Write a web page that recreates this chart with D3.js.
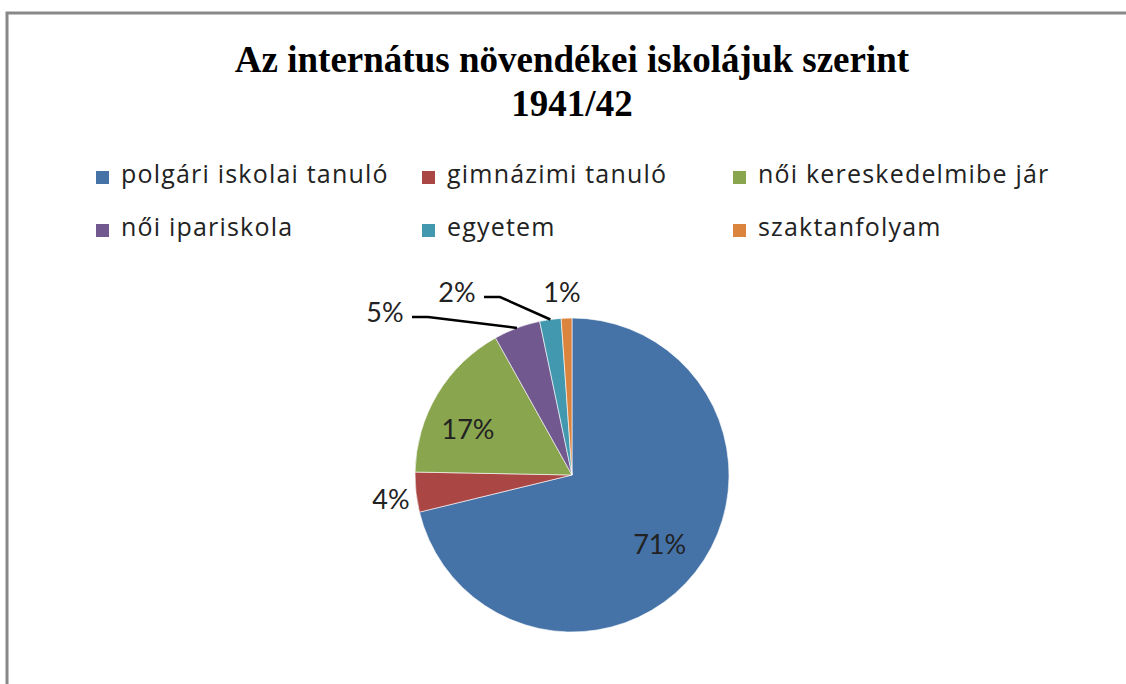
<!DOCTYPE html>
<html>
<head>
<meta charset="utf-8">
<title>Az internátus növendékei</title>
<style>
  body { margin: 0; background: #fff; }
  .title { font-family: "Liberation Serif", "Times New Roman", serif; font-weight: bold; font-size: 37px; fill: #000; }
  .legend text { font-family: "Open Sans", Lato, sans-serif; font-size: 25px; letter-spacing: 1.2px; fill: #222; }
  .lbl { font-family: Lato, "Open Sans", sans-serif; font-size: 27px; fill: #222; }
</style>
</head>
<body>
<svg width="1126" height="684"></svg>
<script src="https://cdnjs.cloudflare.com/ajax/libs/d3/7.8.5/d3.min.js"></script>
<script>
// adatok
var categories = ["polgári iskolai tanuló", "gimnázimi tanuló", "női kereskedelmibe jár",
                  "női ipariskola", "egyetem", "szaktanfolyam"];
var shares = [71.2, 4.1, 16.6, 4.8, 2.2, 1.1];
var colors = ["#4572A7", "#AA4643", "#89A54E", "#71588F", "#4198AF", "#DB843D"];
var titleLines = ["Az internátus növendékei iskolájuk szerint", "1941/42"];

// label placement: null = inside (centroid), otherwise fixed label centre + leader flag
var labelPlace = [
  null,
  { x: 391, y: 498, line: false },
  { x: 468, y: 428, line: false },
  { x: 385, y: 311, line: true },
  { x: 457, y: 291, line: true },
  { x: 562, y: 291, line: false }
];

var svg = d3.select("svg");
var cx = 572, cy = 475, r = 157;

// frame
svg.append("path")
  .attr("d", "M7,690 V13 H1130")
  .attr("fill", "none").attr("stroke", "#888").attr("stroke-width", 3);

// title
svg.selectAll(".title").data(titleLines).enter().append("text")
  .attr("class", "title")
  .attr("x", 572)
  .attr("y", (d, i) => 72 + i * 44)
  .attr("text-anchor", "middle")
  .text(d => d);

// legend
var legCols = [96, 422, 733], legRows = [171, 224];
var leg = svg.append("g").attr("class", "legend");
var items = leg.selectAll("g").data(categories).enter().append("g")
  .attr("transform", (d, i) => "translate(" + legCols[i % 3] + "," + legRows[Math.floor(i / 3)] + ")");
items.append("rect").attr("width", 13).attr("height", 13).attr("fill", (d, i) => colors[i]);
items.append("text").attr("x", 25).attr("y", 12).text(d => d);

// pie
var pie = d3.pie().sort(null).value(d => d);
var arcs = pie(shares);
var arc = d3.arc().innerRadius(0).outerRadius(r);
var inner = d3.arc().innerRadius(r * 0.71).outerRadius(r * 0.71);
var edge = d3.arc().innerRadius(r).outerRadius(r);

var g = svg.append("g").attr("transform", "translate(" + cx + "," + cy + ")");
g.selectAll("path").data(arcs).enter().append("path")
  .attr("d", arc)
  .attr("fill", (d, i) => colors[i])
  .attr("stroke", "#fff").attr("stroke-width", 0.6);

var fmt = v => Math.round(v) + "%";

arcs.forEach(function(a, i) {
  var p = labelPlace[i];
  var x, y;
  if (!p) {
    var c = inner.centroid(a);
    x = cx + c[0]; y = cy + c[1];
  } else {
    x = p.x; y = p.y;
    if (p.line) {
      var e = edge.centroid(a);
      var sx = x + 27, sy = y + 6;
      svg.append("polyline")
        .attr("points", [[sx, sy], [sx + 16, sy], [cx + e[0], cy + e[1]]].map(q => q.join(",")).join(" "))
        .attr("fill", "none").attr("stroke", "#000").attr("stroke-width", 2.5);
    }
  }
  svg.append("text").attr("class", "lbl")
    .attr("x", x).attr("y", y)
    .attr("text-anchor", "middle")
    .attr("dominant-baseline", "central")
    .text(fmt(shares[i]));
});
</script>
</body>
</html>
